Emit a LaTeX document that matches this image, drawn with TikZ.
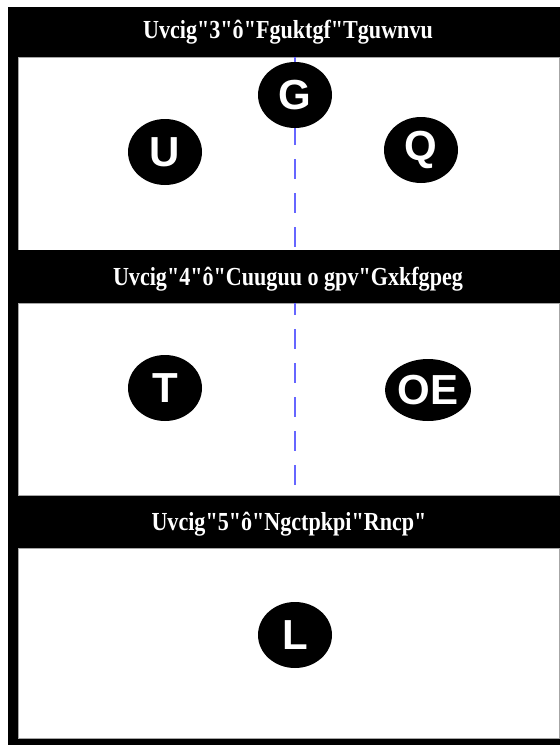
\documentclass[tikz,border=0pt]{standalone}
\usepackage{fontspec}
\setmainfont{Liberation Serif}[Ligatures=TeXOff]
\newfontfamily\lettersans{Liberation Sans}
\usetikzlibrary{shapes.geometric}
\begin{document}
\begin{tikzpicture}[x=1pt,y=-1pt,
  panel/.style={fill=white,draw=gray!70,line width=0.8pt},
  bandbox/.style={fill=black,draw=none},
  title/.style={text=white,font=\bfseries\fontsize{26}{26}\selectfont,anchor=base,inner sep=0pt},
  badge/.style={ellipse,fill=black,text=white,
    font=\lettersans\bfseries\fontsize{42}{42}\selectfont,
    minimum width=74pt,minimum height=66pt,inner sep=0pt},
  guide/.style={draw=blue!60!white,line width=1.8pt,dash pattern=on 20pt off 14pt,dash phase=0pt}]

\useasboundingbox (0,0) rectangle (560,745);

% black frame behind everything
\fill[black] (8,7) rectangle (560,745);

% white stage panels
\filldraw[panel] (18,57) rectangle (559,250);
\filldraw[panel] (18,303) rectangle (559,495);
\filldraw[panel] (18,548) rectangle (559,738);

% vertical dashed guide through stages 1 and 2
\coordinate (guidetop) at (295,57);
\coordinate (guidebot) at (295,495);
\draw[guide] (guidetop) -- (guidebot);

% middle title band covers the guide
\fill[bandbox] (18,250) rectangle (560,303);

% stage titles
\node[title] (t1) at (288,38) {\scalebox{0.85}[1]{Uvcig"3"ô"Fguktgf"Tguwnvu}};
\node[title] (t2) at (288,285) {\scalebox{0.85}[1]{Uvcig"4"ô"Cuuguu o gpv"Gxkfgpeg}};
\node[title] (t3) at (289,530) {\scalebox{0.85}[1]{Uvcig"5"ô"Ngctpkpi"Rncp"}};

% badges
\node[badge] (g) at (295,95) {G};
\node[badge] (u) at (165,152) {U};
\node[badge] (q) at (421,150) {Q};
\node[badge] (t) at (165,388) {T};
\node[badge,minimum width=82pt,minimum height=62pt] (oe) at (428,390) {OE};
\node[badge] (l) at (295,635) {L};
\end{tikzpicture}
\end{document}
